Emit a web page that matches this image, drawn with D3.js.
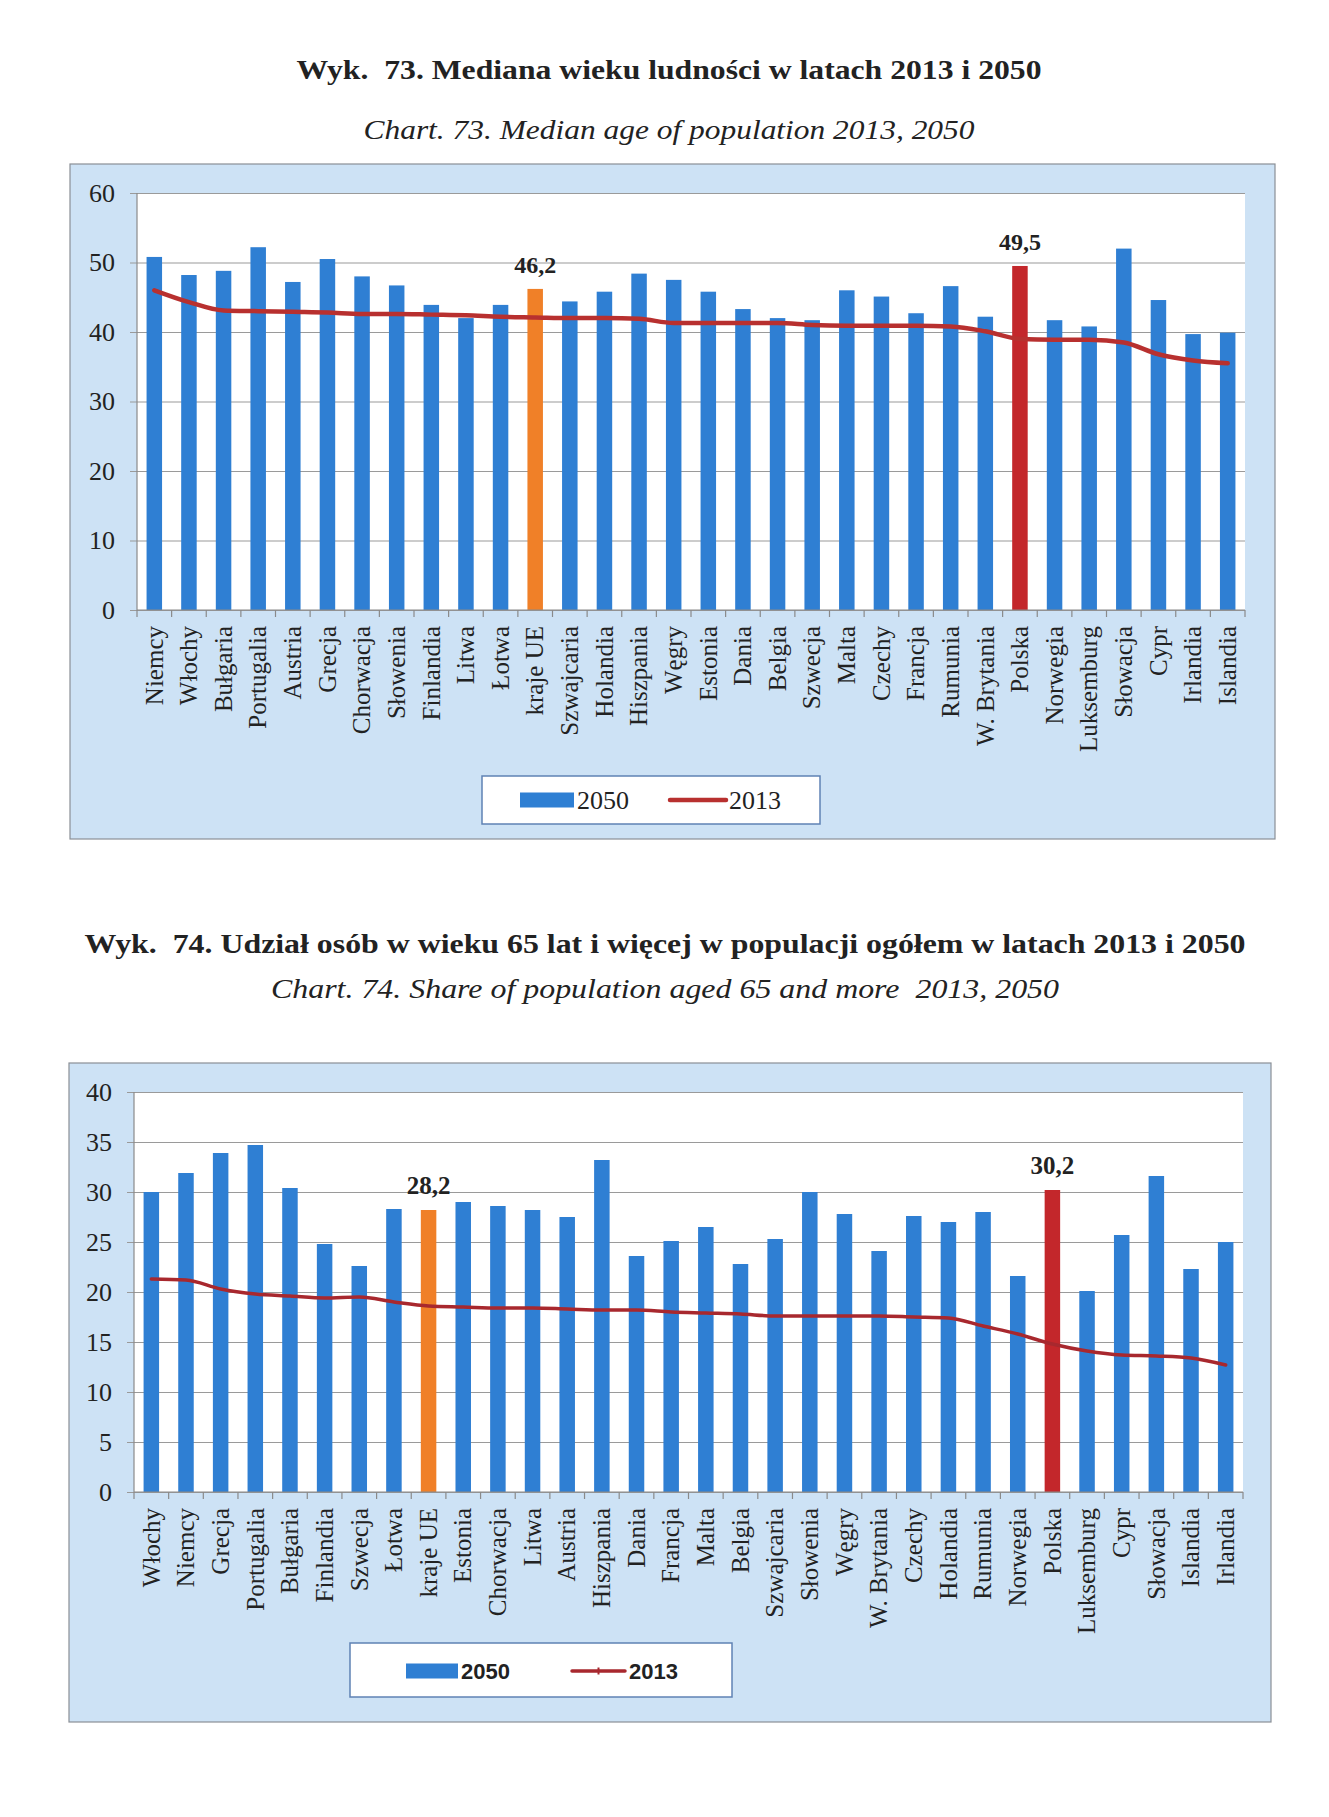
<!DOCTYPE html>
<html>
<head>
<meta charset="utf-8">
<script src="https://cdn.jsdelivr.net/npm/d3@7"></script>
<style>
  html, body { margin: 0; padding: 0; background: #ffffff; }
  svg { display: block; }
  text.ttl { white-space: pre; }
</style>
</head>
<body>
<svg id="chart" width="1329" height="1817"></svg>
<script>
// ---------- DATA ----------
const cats1 = ["Niemcy","Włochy","Bułgaria","Portugalia","Austria","Grecja","Chorwacja","Słowenia","Finlandia","Litwa","Łotwa","kraje UE","Szwajcaria","Holandia","Hiszpania","Węgry","Estonia","Dania","Belgia","Szwecja","Malta","Czechy","Francja","Rumunia","W. Brytania","Polska","Norwegia","Luksemburg","Słowacja","Cypr","Irlandia","Islandia"];
const median2050 = [50.8,48.2,48.8,52.2,47.2,50.5,48.0,46.7,43.9,42.0,43.9,46.2,44.4,45.8,48.4,47.5,45.8,43.3,42.0,41.7,46.0,45.1,42.7,46.6,42.2,49.5,41.7,40.8,52.0,44.6,39.7,39.9];
const median2013 = [46.0,44.3,43.1,43.0,42.9,42.8,42.6,42.6,42.5,42.4,42.2,42.1,42.0,42.0,41.9,41.3,41.3,41.3,41.3,41.0,40.9,40.9,40.9,40.8,40.1,39.0,38.9,38.9,38.5,36.8,35.9,35.5];
const ticks1 = [0,10,20,30,40,50,60];

const cats2 = ["Włochy","Niemcy","Grecja","Portugalia","Bułgaria","Finlandia","Szwecja","Łotwa","kraje UE","Estonia","Chorwacja","Litwa","Austria","Hiszpania","Dania","Francja","Malta","Belgia","Szwajcaria","Słowenia","Węgry","W. Brytania","Czechy","Holandia","Rumunia","Norwegia","Polska","Luksemburg","Cypr","Słowacja","Islandia","Irlandia"];
const share2050 = [30.0,31.9,33.9,34.7,30.4,24.8,22.6,28.3,28.2,29.0,28.6,28.2,27.5,33.2,23.6,25.1,26.5,22.8,25.3,30.0,27.8,24.1,27.6,27.0,28.0,21.6,30.2,20.1,25.7,31.6,22.3,25.0];
const share2013 = [21.3,21.2,20.3,19.8,19.6,19.4,19.5,19.0,18.6,18.5,18.4,18.4,18.3,18.2,18.2,18.0,17.9,17.8,17.6,17.6,17.6,17.6,17.5,17.4,16.6,15.8,14.8,14.1,13.7,13.6,13.4,12.7];
const ticks2 = [0,5,10,15,20,25,30,35,40];

const seriesNames = ["2050","2013"];
const highlightEU = "kraje UE";
const highlightPL = "Polska";

// ---------- STYLE ----------
const COL_BAR = "#2f7fd3";
const COL_EU = "#f08028";
const COL_PL = "#c3272b";
const COL_BOX = "#cde2f5";
const COL_GRID = "#9a9a9a";
const SERIF = "'Liberation Serif','Times New Roman',serif";
const SANS = "'Liberation Sans',Arial,sans-serif";

const svg = d3.select("#chart");

function titles(t1, t1y, t1w, t2, t2y, t2w, cx) {
  svg.append("text").attr("class","ttl").attr("x", cx).attr("y", t1y)
    .attr("text-anchor","middle").attr("font-family",SERIF).attr("font-weight","bold")
    .attr("font-size",27).attr("fill","#222")
    .attr("textLength", t1w).attr("lengthAdjust","spacingAndGlyphs").text(t1);
  svg.append("text").attr("class","ttl").attr("x", cx).attr("y", t2y)
    .attr("text-anchor","middle").attr("font-family",SERIF).attr("font-style","italic")
    .attr("font-size",27).attr("fill","#222")
    .attr("textLength", t2w).attr("lengthAdjust","spacingAndGlyphs").text(t2);
}

function drawChart(cfg) {
  const g = svg.append("g");
  // outer box
  g.append("rect").attr("x",cfg.box[0]).attr("y",cfg.box[1])
    .attr("width",cfg.box[2]).attr("height",cfg.box[3])
    .attr("fill",COL_BOX).attr("stroke","#8a8f96").attr("stroke-width",1.2);
  // plot area
  g.append("rect").attr("x",cfg.x0).attr("y",cfg.yTop)
    .attr("width",cfg.x1-cfg.x0).attr("height",cfg.yBottom-cfg.yTop)
    .attr("fill","#ffffff");

  const x = d3.scaleBand().domain(cfg.cats).range([cfg.x0, cfg.x1]).padding(0);
  const y = d3.scaleLinear().domain([0, d3.max(cfg.ticks)]).range([cfg.yBottom, cfg.yTop]);
  const bw = 15.5;

  // y axis with gridlines
  const yAxis = d3.axisLeft(y).tickValues(cfg.ticks)
    .tickSize(cfg.x1 - cfg.x0 + 7).tickPadding(15).tickFormat(d3.format("d"));
  const ya = g.append("g").attr("transform",`translate(${cfg.x1},0)`).call(yAxis);
  ya.select(".domain").remove();
  ya.selectAll(".tick line").attr("stroke",COL_GRID).attr("stroke-width",1.2);
  ya.selectAll(".tick text").attr("font-family",SERIF).attr("font-size",cfg.tickFont)
    .attr("fill","#222");

  // y axis line
  g.append("line").attr("x1",cfg.x0).attr("x2",cfg.x0).attr("y1",cfg.yTop).attr("y2",cfg.yBottom)
    .attr("stroke","#8a8a8a").attr("stroke-width",1.2);

  // bars
  g.selectAll("rect.bar").data(cfg.cats).enter().append("rect").attr("class","bar")
    .attr("x", d => x(d) + (x.bandwidth()-bw)/2)
    .attr("width", bw)
    .attr("y", (d,i) => y(cfg.bars[i]))
    .attr("height", (d,i) => y(0) - y(cfg.bars[i]))
    .attr("fill", d => d === highlightEU ? COL_EU : (d === highlightPL ? COL_PL : COL_BAR));

  // x axis baseline + boundary ticks
  g.append("line").attr("x1",cfg.x0).attr("x2",cfg.x1).attr("y1",cfg.yBottom).attr("y2",cfg.yBottom)
    .attr("stroke","#8a8a8a").attr("stroke-width",1.2);
  const bounds = cfg.cats.map(d => x(d)).concat([cfg.x1]);
  g.selectAll("line.xt").data(bounds).enter().append("line").attr("class","xt")
    .attr("x1", d => d).attr("x2", d => d)
    .attr("y1", cfg.yBottom).attr("y2", cfg.yBottom + 7)
    .attr("stroke","#8a8a8a").attr("stroke-width",1.2);

  // category labels via axis
  const xAxis = d3.axisBottom(x).tickSize(0).tickPadding(0);
  const xa = g.append("g").attr("transform",`translate(0,${cfg.yBottom})`).call(xAxis);
  xa.select(".domain").remove();
  xa.selectAll(".tick text")
    .attr("font-family",SERIF).attr("font-size",cfg.catFont).attr("fill","#222")
    .attr("text-anchor","end")
    .attr("transform",`translate(0,${cfg.catGap}) rotate(-90)`)
    .attr("x",0).attr("y",0).attr("dy","0.33em");

  // line 2013
  const line = d3.line()
    .x((d,i) => x(cfg.cats[i]) + x.bandwidth()/2)
    .y(d => y(d))
    .curve(cfg.curve);
  g.append("path").datum(cfg.line)
    .attr("d", line).attr("fill","none")
    .attr("stroke",cfg.lineColor).attr("stroke-width",cfg.lineWidth)
    .attr("stroke-linejoin","round").attr("stroke-linecap","round");

  // data labels for highlighted bars
  [highlightEU, highlightPL].forEach(name => {
    const i = cfg.cats.indexOf(name);
    g.append("text")
      .attr("x", x(name) + x.bandwidth()/2)
      .attr("y", y(cfg.bars[i]) - 16)
      .attr("text-anchor","middle")
      .attr("font-family",SERIF).attr("font-weight","bold").attr("font-size",cfg.labelFont)
      .attr("fill","#222")
      .text(d3.format(".1f")(cfg.bars[i]).replace(".", ","));
  });

  // legend
  const L = cfg.legend;
  const lg = g.append("g");
  lg.append("rect").attr("x",L.box[0]).attr("y",L.box[1]).attr("width",L.box[2]).attr("height",L.box[3])
    .attr("fill","#ffffff").attr("stroke","#5f82b4").attr("stroke-width",1.5);
  lg.append("rect").attr("x",L.sw[0]).attr("y",L.cy - 7.5).attr("width",L.sw[1]).attr("height",15)
    .attr("fill",COL_BAR);
  lg.append("text").attr("x",L.t1).attr("y",L.cy).attr("dy","0.35em")
    .attr("font-family",L.font).attr("font-weight",L.weight).attr("font-size",L.size).attr("fill","#222")
    .text(seriesNames[0]);
  lg.append("line").attr("x1",L.ln[0]).attr("x2",L.ln[1]).attr("y1",L.cy).attr("y2",L.cy)
    .attr("stroke",cfg.lineColor).attr("stroke-width",cfg.lineWidth).attr("stroke-linecap","round");
  if (L.marker) {
    lg.append("line").attr("x1",(L.ln[0]+L.ln[1])/2).attr("x2",(L.ln[0]+L.ln[1])/2)
      .attr("y1",L.cy-3.5).attr("y2",L.cy+3.5).attr("stroke",cfg.lineColor).attr("stroke-width",2);
  }
  lg.append("text").attr("x",L.t2).attr("y",L.cy).attr("dy","0.35em")
    .attr("font-family",L.font).attr("font-weight",L.weight).attr("font-size",L.size).attr("fill","#222")
    .text(seriesNames[1]);
}

// ---------- TITLES ----------
titles("Wyk.  73. Mediana wieku ludności w latach 2013 i 2050", 79, 745,
       "Chart. 73. Median age of population 2013, 2050", 139, 611, 669);
titles("Wyk.  74. Udział osób w wieku 65 lat i więcej w populacji ogółem w latach 2013 i 2050", 953, 1161,
       "Chart. 74. Share of population aged 65 and more  2013, 2050", 998, 788, 665);

// ---------- CHART 73 ----------
drawChart({
  box: [70,164,1205,675],
  x0: 137, x1: 1245, yTop: 193, yBottom: 610,
  cats: cats1, bars: median2050, line: median2013, ticks: ticks1,
  tickFont: 26, catFont: 25, catGap: 16, labelFont: 24,
  curve: d3.curveMonotoneX, lineColor: "#b8302f", lineWidth: 4.5,
  legend: { box:[482,776,338,48], cy:800, sw:[520,54], t1:577, ln:[670,726], t2:729,
            font: SERIF, weight:"normal", size: 26, marker:false }
});

// ---------- CHART 74 ----------
drawChart({
  box: [69,1063,1202,659],
  x0: 134, x1: 1243, yTop: 1092, yBottom: 1492,
  cats: cats2, bars: share2050, line: share2013, ticks: ticks2,
  tickFont: 26, catFont: 25, catGap: 16, labelFont: 25,
  curve: d3.curveMonotoneX, lineColor: "#a8282e", lineWidth: 3.5,
  legend: { box:[350,1643,382,54], cy:1671, sw:[406,52], t1:461, ln:[572,625], t2:629,
            font: SANS, weight:"bold", size: 22, marker:true }
});
</script>
</body>
</html>
